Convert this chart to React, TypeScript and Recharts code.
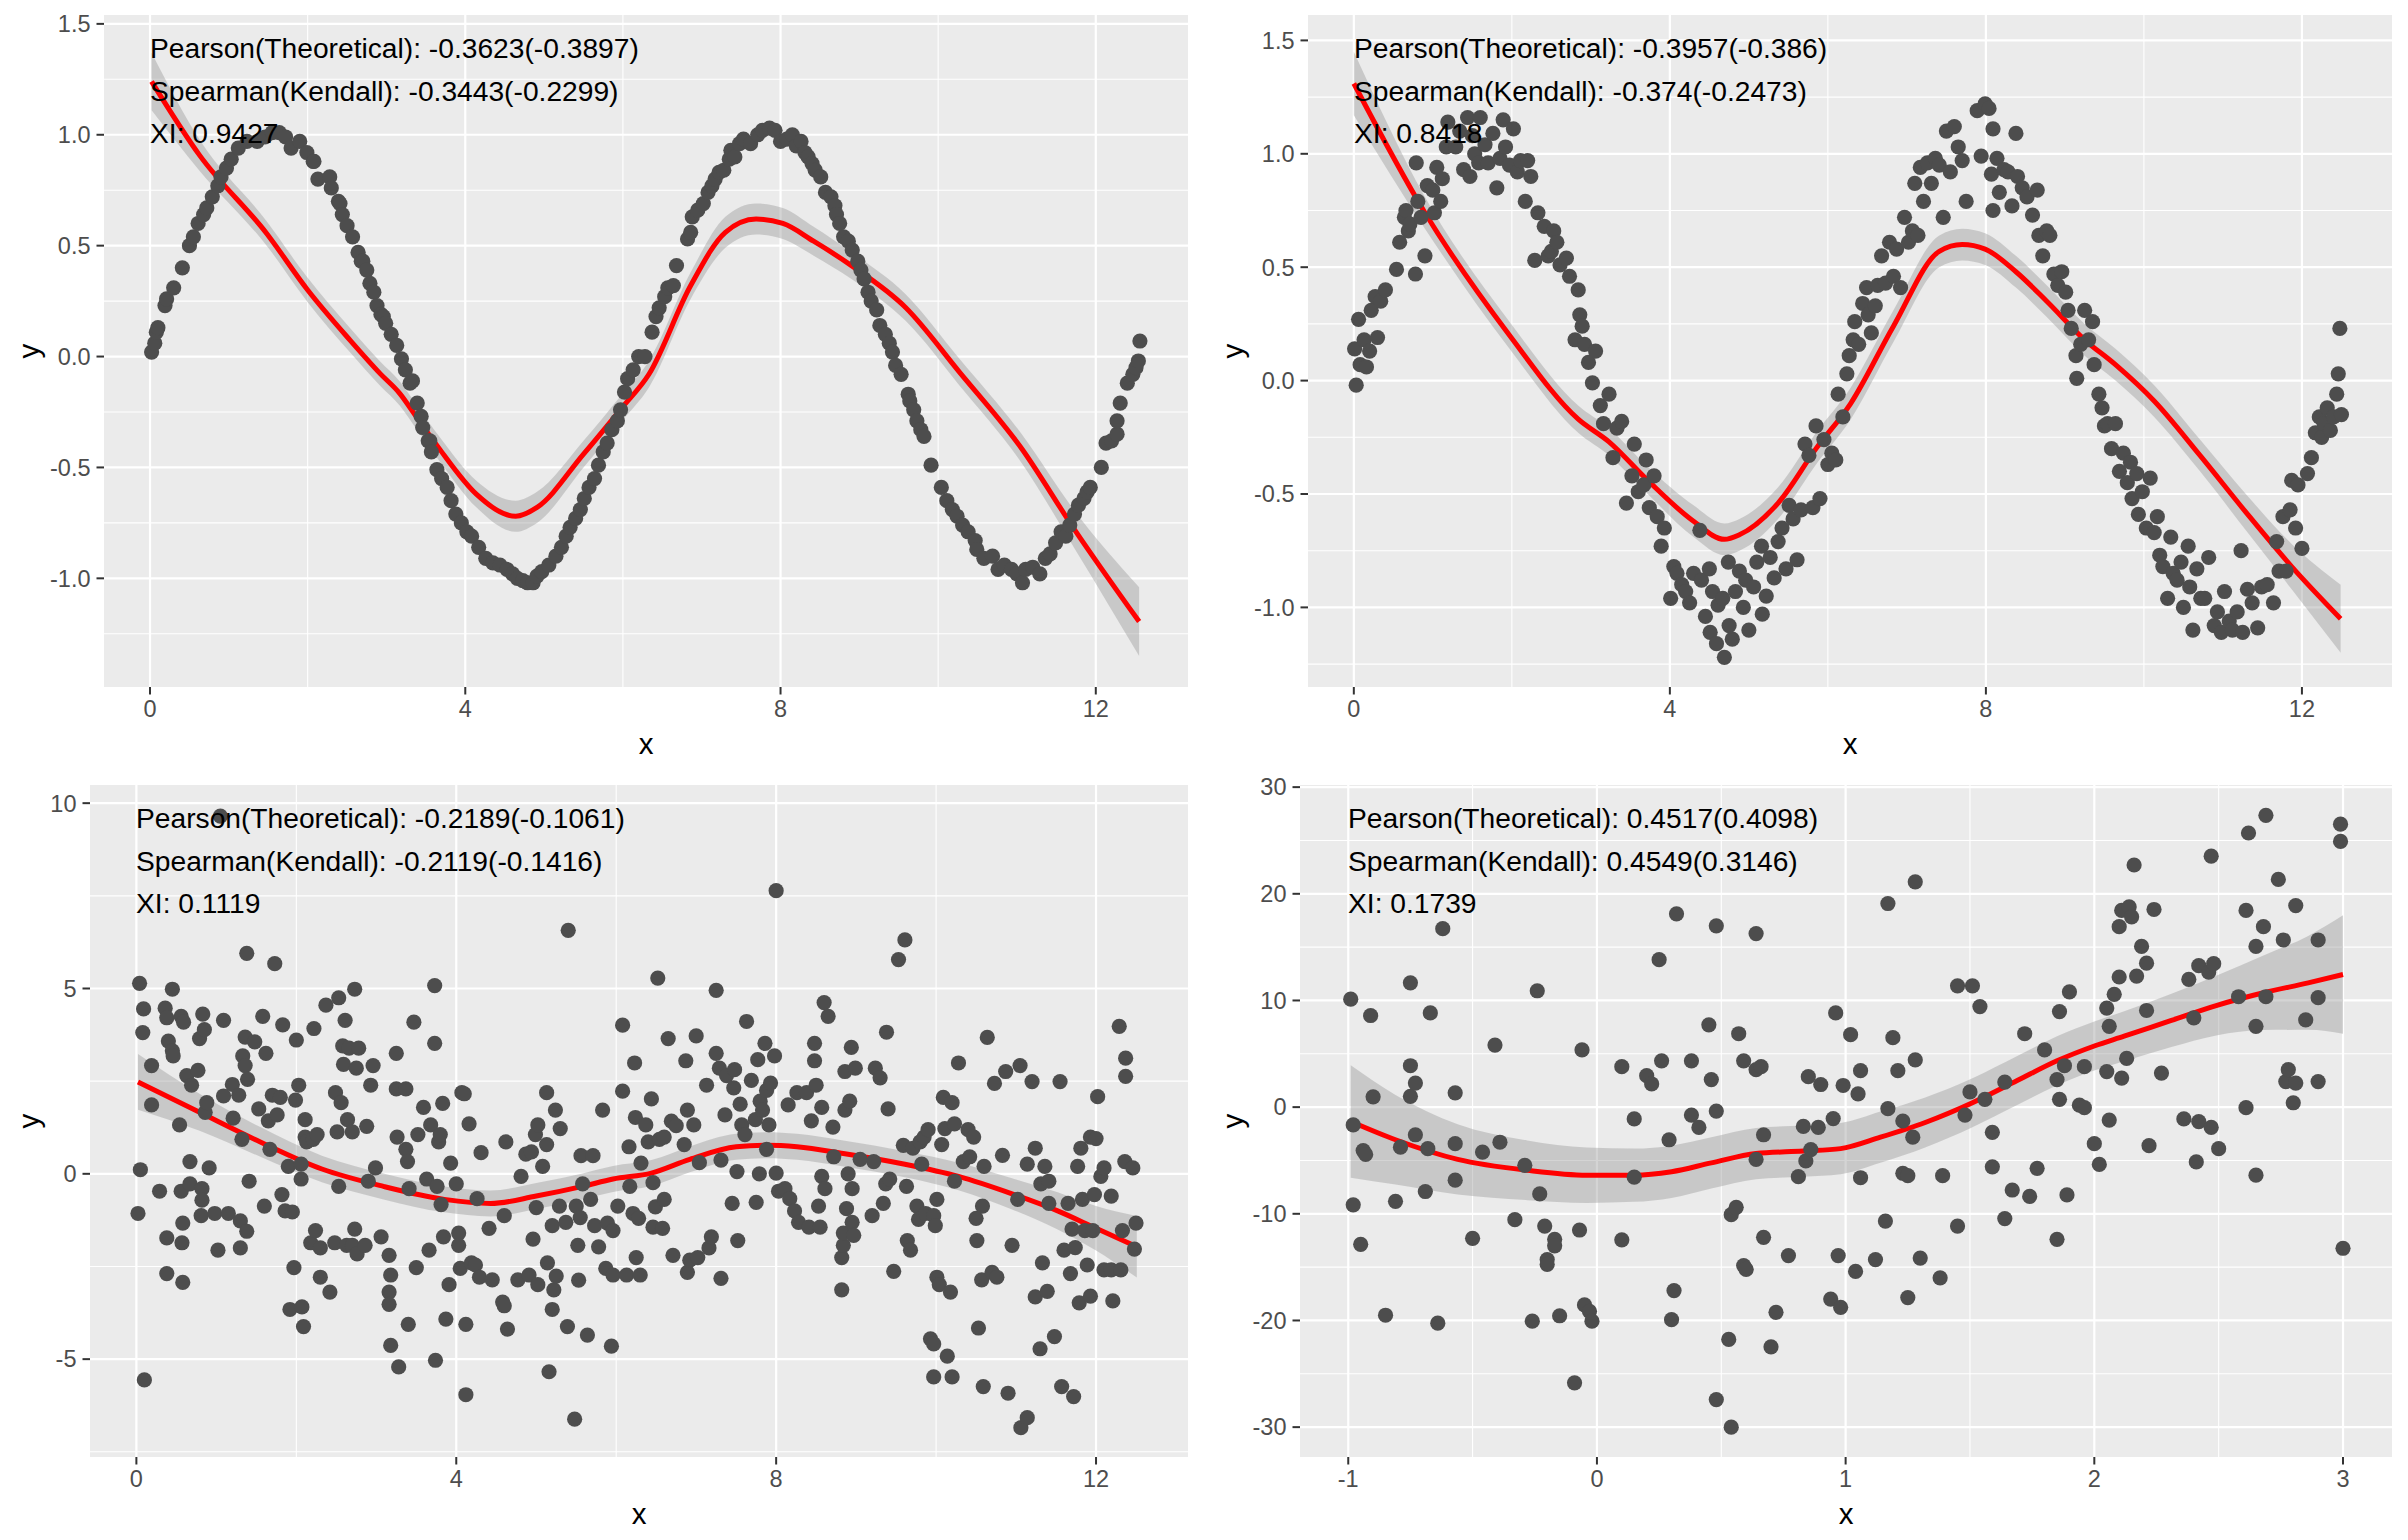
import React from "react";
import { ComposedChart, Scatter, Line, Area, XAxis, YAxis, CartesianGrid } from "recharts";

type Pair = [number, number];

const FONT = '"Liberation Sans", Arial, Helvetica, sans-serif';
const POINT_COLOR = "#4D4D4D";

// ---------- top left ----------
const tlPoints: Pair[] = [
  [0.02, 0.02], [0.06, 0.06], [0.08, 0.11], [0.1, 0.13], [0.19, 0.23], [0.21, 0.26], [0.3, 0.31], [0.41, 0.4],
  [0.5, 0.5], [0.55, 0.54], [0.61, 0.6], [0.68, 0.64], [0.72, 0.67], [0.79, 0.72], [0.86, 0.77], [0.9, 0.81],
  [0.97, 0.85], [1.03, 0.89], [1.12, 0.94], [1.23, 0.97], [1.36, 0.97], [1.46, 0.99], [1.55, 1.01], [1.64, 1.01],
  [1.72, 0.99], [1.79, 0.94], [1.9, 0.97], [1.99, 0.92], [2.07, 0.88], [2.08, 0.88], [2.13, 0.8], [2.28, 0.81],
  [2.3, 0.76], [2.39, 0.7], [2.41, 0.69], [2.44, 0.64], [2.5, 0.59], [2.57, 0.54], [2.64, 0.47], [2.68, 0.43],
  [2.7, 0.43], [2.75, 0.39], [2.79, 0.33], [2.84, 0.29], [2.88, 0.23], [2.93, 0.19], [2.96, 0.18], [2.99, 0.15],
  [3.06, 0.1], [3.13, 0.05], [3.19, -0.01], [3.24, -0.06], [3.3, -0.12], [3.33, -0.11], [3.39, -0.21], [3.44, -0.27],
  [3.46, -0.32], [3.53, -0.38], [3.55, -0.38], [3.57, -0.43], [3.64, -0.51], [3.7, -0.55], [3.77, -0.59], [3.82, -0.65],
  [3.88, -0.71], [3.95, -0.75], [4.02, -0.79], [4.08, -0.81], [4.17, -0.86], [4.26, -0.91], [4.35, -0.93], [4.44, -0.94],
  [4.53, -0.96], [4.6, -0.98], [4.66, -1.0], [4.73, -1.01], [4.79, -1.02], [4.86, -1.02], [4.91, -0.99], [4.97, -0.97],
  [5.06, -0.94], [5.15, -0.9], [5.22, -0.86], [5.28, -0.81], [5.33, -0.77], [5.4, -0.73], [5.46, -0.69], [5.51, -0.64],
  [5.57, -0.59], [5.64, -0.55], [5.69, -0.49], [5.75, -0.43], [5.8, -0.39], [5.86, -0.33], [5.93, -0.29], [5.97, -0.24],
  [6.02, -0.16], [6.06, -0.1], [6.13, -0.06], [6.2, 0.0], [6.28, 0.0], [6.37, 0.11], [6.42, 0.18], [6.46, 0.22],
  [6.53, 0.27], [6.57, 0.31], [6.64, 0.32], [6.68, 0.41], [6.82, 0.53], [6.86, 0.56], [6.88, 0.63], [6.95, 0.66],
  [7.02, 0.69], [7.08, 0.74], [7.13, 0.77], [7.17, 0.8], [7.22, 0.83], [7.28, 0.84], [7.35, 0.89], [7.37, 0.93],
  [7.42, 0.9], [7.48, 0.96], [7.53, 0.98], [7.62, 0.96], [7.71, 1.0], [7.77, 1.02], [7.86, 1.03], [7.93, 1.02],
  [8.0, 0.97], [8.08, 0.98], [8.15, 1.0], [8.2, 0.95], [8.26, 0.97], [8.31, 0.92], [8.35, 0.9], [8.4, 0.87],
  [8.44, 0.84], [8.51, 0.81], [8.57, 0.74], [8.64, 0.72], [8.69, 0.68], [8.71, 0.64], [8.75, 0.6], [8.8, 0.54],
  [8.86, 0.52], [8.91, 0.48], [8.98, 0.43], [9.02, 0.39], [9.06, 0.35], [9.11, 0.29], [9.15, 0.25], [9.22, 0.21],
  [9.26, 0.14], [9.33, 0.1], [9.38, 0.06], [9.42, 0.02], [9.46, -0.04], [9.53, -0.08], [9.62, -0.17], [9.64, -0.2],
  [9.69, -0.24], [9.73, -0.29], [9.78, -0.33], [9.82, -0.36], [9.91, -0.49], [10.04, -0.59], [10.11, -0.65], [10.18, -0.69],
  [10.24, -0.72], [10.31, -0.76], [10.38, -0.79], [10.47, -0.83], [10.49, -0.87], [10.58, -0.91], [10.69, -0.9], [10.76, -0.96],
  [10.84, -0.94], [10.93, -0.96], [11.0, -0.98], [11.07, -1.02], [11.11, -0.96], [11.2, -0.95], [11.29, -0.98], [11.36, -0.91],
  [11.42, -0.89], [11.49, -0.84], [11.56, -0.79], [11.62, -0.81], [11.67, -0.76], [11.73, -0.71], [11.78, -0.67], [11.85, -0.64],
  [11.89, -0.61], [11.93, -0.59], [12.07, -0.5], [12.13, -0.39], [12.2, -0.38], [12.27, -0.35], [12.27, -0.29], [12.31, -0.21],
  [12.4, -0.12], [12.47, -0.08], [12.51, -0.05], [12.54, -0.02], [12.56, 0.07],
];
const tlSmoothX = [0.02, 0.63, 1.48, 2.0, 2.54, 2.92, 3.17, 3.38, 3.68, 4.14, 4.64, 4.91, 5.5, 5.99, 6.33, 6.86, 7.3, 7.69, 8.03, 8.42, 8.9, 9.59, 10.27, 11.05, 11.73, 12.55];
const tlFit = [1.24, 0.907, 0.555, 0.3, 0.073, -0.077, -0.167, -0.272, -0.42, -0.62, -0.72, -0.68, -0.44, -0.23, -0.08, 0.32, 0.56, 0.62, 0.6, 0.52, 0.41, 0.22, -0.07, -0.41, -0.78, -1.195];
const tlLo = [1.11, 0.837, 0.5, 0.245, 0.018, -0.132, -0.222, -0.327, -0.475, -0.68, -0.79, -0.75, -0.5, -0.29, -0.14, 0.26, 0.49, 0.55, 0.53, 0.455, 0.35, 0.16, -0.13, -0.475, -0.865, -1.35];
const tlHi = [1.37, 0.977, 0.61, 0.355, 0.128, -0.022, -0.112, -0.217, -0.365, -0.56, -0.65, -0.61, -0.38, -0.17, -0.02, 0.38, 0.63, 0.69, 0.67, 0.585, 0.47, 0.28, -0.01, -0.345, -0.695, -1.04];
const tlText = ["Pearson(Theoretical): -0.3623(-0.3897)", "Spearman(Kendall): -0.3443(-0.2299)", "XI: 0.9427"];

// ---------- top right ----------
const trPoints: Pair[] = [
  [0.03, -0.02], [0.01, 0.14], [0.06, 0.27], [0.08, 0.07], [0.13, 0.18], [0.16, 0.06], [0.2, 0.13], [0.22, 0.31],
  [0.27, 0.37], [0.3, 0.19], [0.34, 0.35], [0.4, 0.4], [0.54, 0.49], [0.58, 0.61], [0.64, 0.72], [0.66, 0.75],
  [0.69, 0.66], [0.71, 0.69], [0.78, 0.47], [0.79, 0.96], [0.81, 0.79], [0.85, 0.72], [0.9, 0.55], [0.93, 0.86],
  [1.0, 0.84], [1.02, 0.74], [1.05, 0.94], [1.1, 0.79], [1.12, 0.89], [1.17, 1.03], [1.19, 1.14], [1.29, 1.03],
  [1.34, 1.1], [1.39, 0.93], [1.44, 1.16], [1.47, 0.9], [1.5, 1.08], [1.53, 1.0], [1.58, 0.96], [1.6, 1.16],
  [1.66, 1.04], [1.7, 0.96], [1.76, 1.09], [1.81, 0.85], [1.85, 0.98], [1.89, 1.15], [1.92, 1.03], [1.97, 0.95],
  [2.02, 1.11], [2.07, 0.92], [2.11, 0.97], [2.17, 0.79], [2.2, 0.97], [2.24, 0.9], [2.29, 0.53], [2.33, 0.74],
  [2.41, 0.68], [2.46, 0.55], [2.5, 0.57], [2.53, 0.66], [2.57, 0.61], [2.61, 0.51], [2.69, 0.54], [2.73, 0.46],
  [2.8, 0.18], [2.84, 0.4], [2.86, 0.29], [2.89, 0.24], [2.92, 0.16], [2.97, 0.08], [3.02, -0.01], [3.06, 0.13],
  [3.12, -0.11], [3.16, -0.19], [3.23, -0.06], [3.28, -0.34], [3.33, -0.21], [3.39, -0.18], [3.45, -0.54], [3.52, -0.42],
  [3.55, -0.28], [3.6, -0.49], [3.67, -0.46], [3.7, -0.35], [3.74, -0.56], [3.8, -0.42], [3.84, -0.6], [3.89, -0.73],
  [3.93, -0.65], [4.01, -0.96], [4.05, -0.82], [4.09, -0.85], [4.15, -0.9], [4.2, -0.93], [4.25, -0.98], [4.3, -0.85],
  [4.38, -0.66], [4.4, -0.88], [4.45, -1.04], [4.5, -0.83], [4.51, -1.11], [4.54, -0.93], [4.59, -1.16], [4.61, -0.99],
  [4.67, -0.96], [4.69, -1.22], [4.74, -0.8], [4.75, -1.08], [4.79, -1.14], [4.83, -0.93], [4.88, -0.84], [4.93, -1.0],
  [4.96, -0.88], [5.0, -1.1], [5.06, -0.91], [5.1, -0.8], [5.16, -0.73], [5.17, -1.03], [5.22, -0.95], [5.27, -0.78],
  [5.32, -0.87], [5.37, -0.71], [5.42, -0.65], [5.47, -0.83], [5.51, -0.55], [5.56, -0.61], [5.61, -0.79], [5.66, -0.57],
  [5.71, -0.28], [5.76, -0.33], [5.81, -0.56], [5.85, -0.2], [5.9, -0.52], [5.95, -0.26], [6.0, -0.37], [6.05, -0.32],
  [6.1, -0.35], [6.13, -0.06], [6.19, -0.16], [6.24, 0.03], [6.27, 0.11], [6.32, 0.18], [6.34, 0.26], [6.39, 0.16],
  [6.44, 0.34], [6.49, 0.41], [6.51, 0.29], [6.55, 0.21], [6.6, 0.33], [6.63, 0.42], [6.68, 0.55], [6.73, 0.43],
  [6.78, 0.61], [6.83, 0.46], [6.87, 0.58], [6.92, 0.41], [6.97, 0.72], [7.02, 0.61], [7.07, 0.66], [7.1, 0.87],
  [7.14, 0.64], [7.17, 0.94], [7.21, 0.79], [7.26, 0.96], [7.31, 0.87], [7.36, 0.98], [7.41, 0.95], [7.46, 0.72],
  [7.5, 1.1], [7.55, 0.92], [7.6, 1.12], [7.65, 1.03], [7.7, 0.97], [7.75, 0.79], [7.89, 1.19], [7.94, 0.99],
  [7.99, 1.22], [8.04, 1.2], [8.07, 0.91], [8.09, 1.11], [8.14, 0.98], [8.09, 0.75], [8.17, 0.83], [8.23, 0.93],
  [8.28, 0.92], [8.33, 0.77], [8.38, 1.09], [8.4, 0.9], [8.46, 0.85], [8.52, 0.81], [8.59, 0.73], [8.65, 0.84],
  [8.67, 0.64], [8.72, 0.55], [8.77, 0.66], [8.81, 0.64], [8.86, 0.47], [8.91, 0.42], [8.96, 0.48], [9.01, 0.39],
  [9.04, 0.31], [9.08, 0.23], [9.14, 0.11], [9.15, 0.01], [9.2, 0.16], [9.25, 0.31], [9.3, 0.18], [9.35, 0.26],
  [9.37, 0.07], [9.43, -0.06], [9.47, -0.12], [9.5, -0.2], [9.54, -0.19], [9.59, -0.3], [9.64, -0.19], [9.69, -0.4],
  [9.74, -0.32], [9.79, -0.45], [9.83, -0.36], [9.85, -0.52], [9.91, -0.41], [9.93, -0.59], [9.98, -0.49], [10.03, -0.65],
  [10.08, -0.43], [10.13, -0.67], [10.17, -0.6], [10.2, -0.77], [10.24, -0.82], [10.3, -0.96], [10.34, -0.69], [10.37, -0.85],
  [10.42, -0.88], [10.47, -0.8], [10.5, -1.0], [10.56, -0.73], [10.58, -0.91], [10.62, -1.1], [10.67, -0.83], [10.72, -0.96],
  [10.77, -0.96], [10.82, -0.78], [10.89, -1.08], [10.93, -1.02], [10.98, -1.11], [11.02, -0.93], [11.08, -1.06], [11.12, -1.1],
  [11.18, -1.02], [11.23, -0.75], [11.25, -1.11], [11.31, -0.92], [11.37, -0.98], [11.44, -1.09], [11.49, -0.91], [11.56, -0.9],
  [11.64, -0.98], [11.68, -0.71], [11.71, -0.84], [11.76, -0.6], [11.8, -0.84], [11.85, -0.57], [11.87, -0.44], [11.92, -0.65],
  [11.95, -0.46], [12.0, -0.74], [12.07, -0.41], [12.12, -0.34], [12.17, -0.23], [12.22, -0.16], [12.25, -0.25], [12.28, -0.19],
  [12.32, -0.12], [12.36, -0.22], [12.4, -0.16], [12.44, -0.06], [12.46, 0.03], [12.48, 0.23], [12.5, -0.15],
];
const trSmoothX = [0, 0.9, 1.97, 2.84, 3.23, 3.72, 4.3, 4.69, 4.88, 5.37, 5.85, 6.29, 6.83, 7.41, 7.7, 7.99, 8.38, 8.77, 9.25, 9.64, 10.13, 10.71, 11.29, 11.87, 12.49];
const trFit = [1.31, 0.74, 0.2, -0.17, -0.27, -0.44, -0.62, -0.7, -0.68, -0.54, -0.3, -0.1, 0.24, 0.57, 0.6, 0.58, 0.48, 0.35, 0.18, 0.07, -0.09, -0.33, -0.58, -0.82, -1.05];
const trLo = [1.17, 0.67, 0.14, -0.23, -0.33, -0.5, -0.69, -0.77, -0.75, -0.61, -0.37, -0.17, 0.17, 0.5, 0.53, 0.51, 0.41, 0.28, 0.11, 0.0, -0.16, -0.4, -0.66, -0.92, -1.2];
const trHi = [1.45, 0.81, 0.26, -0.11, -0.21, -0.38, -0.55, -0.63, -0.61, -0.47, -0.23, -0.03, 0.31, 0.64, 0.67, 0.65, 0.55, 0.42, 0.25, 0.14, -0.02, -0.26, -0.5, -0.72, -0.9];
const trText = ["Pearson(Theoretical): -0.3957(-0.386)", "Spearman(Kendall): -0.374(-0.2473)", "XI: 0.8418"];

// ---------- bottom left ----------
const blPoints: Pair[] = [
  [0.04, 5.14], [0.02, -1.07], [0.05, 0.11], [0.09, 4.45], [0.08, 3.81], [0.1, -5.56], [0.19, 2.92], [0.19, 1.86],
  [0.29, -0.47], [0.36, 4.47], [0.38, 4.21], [0.38, -1.73], [0.38, -2.69], [0.4, 3.58], [0.45, 4.98], [0.45, 3.32],
  [0.46, 3.18], [0.54, 1.32], [0.56, -0.47], [0.57, -1.86], [0.58, -1.33], [0.58, -2.93], [0.56, 4.25], [0.59, 4.09],
  [0.63, 2.65], [0.67, 0.33], [0.67, -0.27], [0.69, 2.39], [0.77, 2.79], [0.79, 3.65], [0.81, -1.13], [0.82, -0.4],
  [0.82, -0.71], [0.83, 4.31], [0.85, 3.89], [0.86, 1.66], [0.88, 1.92], [0.91, 0.16], [0.98, -1.07], [1.02, -2.06],
  [1.05, 9.65], [1.09, 4.14], [1.09, 2.1], [1.15, -1.07], [1.2, 2.41], [1.21, 1.5], [1.28, 2.12], [1.3, -2.0],
  [1.3, -1.27], [1.32, 0.93], [1.33, 3.18], [1.36, 3.69], [1.36, 2.92], [1.38, 5.95], [1.39, 2.55], [1.41, -0.2],
  [1.38, -1.55], [1.48, 3.56], [1.53, 1.75], [1.58, 4.25], [1.6, -0.87], [1.62, 3.25], [1.65, 1.43], [1.67, 0.66],
  [1.7, 2.12], [1.73, 5.67], [1.76, 1.59], [1.8, 2.06], [1.82, -0.56], [1.83, 4.02], [1.86, -1.0], [1.9, 0.2],
  [1.92, -3.66], [1.95, -1.03], [1.97, -2.53], [1.99, 1.99], [2.0, 3.61], [2.03, 2.39], [2.06, 0.26], [2.06, -0.14],
  [2.07, -3.59], [2.09, -4.12], [2.11, 1.46], [2.11, 0.99], [2.13, 0.86], [2.18, -1.86], [2.21, 0.93], [2.22, 3.92],
  [2.24, -1.53], [2.26, 1.06], [2.3, -2.0], [2.3, -2.79], [2.37, 4.55], [2.42, -3.19], [2.48, -1.86], [2.49, 2.19],
  [2.51, 1.13], [2.53, -0.34], [2.53, 4.75], [2.56, 1.92], [2.58, 3.45], [2.59, 2.95], [2.61, 4.14], [2.63, -1.93],
  [2.64, 1.46], [2.66, 3.39], [2.7, 1.13], [2.7, -1.93], [2.73, 4.98], [2.73, -1.49], [2.75, 2.85], [2.76, -2.16],
  [2.78, 3.39], [2.86, -1.93], [2.88, 1.28], [2.9, -0.2], [2.93, 2.39], [2.96, 2.92], [2.99, 0.16], [3.06, -1.7],
  [3.16, -2.2], [3.16, -3.19], [3.16, -3.52], [3.18, -2.73], [3.18, -4.63], [3.25, 3.25], [3.26, 0.99], [3.28, -5.21],
  [3.25, 2.29], [3.37, 2.29], [3.37, 0.66], [3.39, 0.33], [3.4, -4.06], [3.41, -0.4], [3.47, 4.09], [3.5, -2.53],
  [3.52, 1.06], [3.59, 1.79], [3.63, -0.14], [3.66, -2.06], [3.68, 1.32], [3.73, 5.08], [3.73, 3.52], [3.74, -5.03],
  [3.76, -0.34], [3.78, 0.86], [3.8, 1.06], [3.81, -0.83], [3.83, 1.9], [3.84, -1.7], [3.87, -3.92], [3.91, -2.99],
  [3.93, 0.29], [4.0, -0.27], [4.03, -1.6], [4.03, -1.93], [4.05, -2.55], [4.07, 2.19], [4.1, 2.16], [4.12, -4.06],
  [4.12, -5.96], [4.16, 1.35], [4.19, -2.4], [4.24, -2.46], [4.26, -0.67], [4.29, -2.79], [4.31, 0.57], [4.41, -1.47],
  [4.45, -2.86], [4.58, -3.46], [4.6, -3.56], [4.6, -1.13], [4.62, 0.86], [4.64, -4.19], [4.77, -2.86], [4.81, -0.07],
  [4.87, 0.53], [4.91, -2.73], [4.94, 0.59], [4.96, -1.76], [4.99, 1.06], [5.0, -0.91], [5.02, -2.99], [5.02, 1.32],
  [5.08, 0.2], [5.13, 2.19], [5.13, 0.79], [5.14, -2.4], [5.16, -5.34], [5.2, -1.4], [5.2, -3.66], [5.22, -3.13],
  [5.24, 1.72], [5.25, -2.76], [5.29, -0.87], [5.3, 1.22], [5.37, -1.31], [5.39, -4.12], [5.4, 6.57], [5.48, -6.62],
  [5.5, -0.87], [5.52, -1.93], [5.53, -2.87], [5.55, -1.18], [5.56, 0.49], [5.58, -0.27], [5.64, -4.35], [5.68, -0.69],
  [5.71, 0.49], [5.73, -1.4], [5.78, -1.97], [5.83, 1.72], [5.87, -2.55], [5.89, -1.33], [5.94, -4.65], [5.96, -1.53],
  [5.96, -2.73], [6.02, -0.87], [6.08, 4.01], [6.08, 2.23], [6.13, -2.73], [6.16, 0.73], [6.17, -0.34], [6.21, -1.07],
  [6.23, 2.99], [6.24, 1.52], [6.25, -2.26], [6.28, -1.2], [6.3, -2.73], [6.31, 0.29], [6.37, 1.32], [6.4, 0.86],
  [6.44, 2.02], [6.46, -0.24], [6.46, -1.44], [6.49, -0.89], [6.52, 5.28], [6.54, 0.93], [6.58, -1.47], [6.6, -0.69],
  [6.6, 0.99], [6.65, 3.65], [6.69, 1.42], [6.71, -2.2], [6.75, 1.3], [6.85, 0.79], [6.87, 3.05], [6.89, 1.72],
  [6.89, -2.66], [6.92, -2.33], [6.97, 1.32], [7.0, 3.72], [7.02, -2.26], [7.04, 0.3], [7.13, 2.39], [7.16, -2.0],
  [7.19, -1.7], [7.25, 3.25], [7.25, 4.95], [7.29, 2.85], [7.31, 0.37], [7.31, -2.82], [7.36, 1.59], [7.38, 2.65],
  [7.45, -0.8], [7.47, 2.32], [7.48, 2.81], [7.51, 0.06], [7.52, -1.8], [7.55, 1.88], [7.57, 1.32], [7.61, 1.06],
  [7.63, 4.11], [7.69, 2.52], [7.74, 1.46], [7.75, -0.77], [7.77, 3.08], [7.79, 0.0], [7.8, 1.96], [7.83, 1.72],
  [7.86, 3.52], [7.88, 2.25], [7.88, 0.66], [7.91, 1.32], [7.93, 2.45], [7.98, 3.18], [8.0, 7.64], [8.0, 0.02],
  [8.03, -0.47], [8.11, -0.4], [8.15, 1.86], [8.17, -0.67], [8.23, -1.0], [8.26, 2.19], [8.28, -1.31], [8.38, 2.19],
  [8.41, -1.44], [8.44, 1.43], [8.48, 3.52], [8.48, 3.05], [8.5, 2.39], [8.53, -0.87], [8.55, -1.44], [8.57, 1.79],
  [8.57, -0.07], [8.6, 4.62], [8.61, -0.4], [8.65, 4.25], [8.71, 1.26], [8.72, 0.46], [8.82, -3.13], [8.82, -2.26],
  [8.84, -1.93], [8.84, -1.6], [8.86, 1.72], [8.86, 2.76], [8.88, -0.94], [8.9, 0.0], [8.92, 1.96], [8.94, 3.41],
  [8.95, -0.4], [8.95, -1.31], [8.97, -1.66], [8.99, 2.85], [9.05, 0.39], [9.2, -1.13], [9.22, 0.33], [9.24, 2.85],
  [9.3, 2.59], [9.34, -0.8], [9.37, -0.27], [9.38, 3.82], [9.4, 1.75], [9.42, -0.14], [9.47, -2.63], [9.53, 5.78],
  [9.59, 0.77], [9.61, 6.31], [9.63, -0.34], [9.64, -1.8], [9.68, -2.06], [9.71, 0.69], [9.76, -0.87], [9.78, -1.23],
  [9.8, 0.86], [9.82, 0.26], [9.85, 0.99], [9.87, -1.07], [9.9, 1.19], [9.93, -4.45], [9.97, -5.48], [9.97, -4.59],
  [9.97, -1.13], [9.99, -1.4], [10.01, -2.79], [10.01, -0.69], [10.04, -2.99], [10.07, 0.79], [10.09, 2.06], [10.11, 1.22],
  [10.14, -4.92], [10.18, -3.19], [10.2, -5.48], [10.2, 1.92], [10.23, 1.35], [10.23, -0.2], [10.28, 2.99], [10.34, 0.33],
  [10.4, 1.19], [10.42, 0.46], [10.47, 0.99], [10.5, -1.2], [10.51, -1.8], [10.53, -4.16], [10.57, -2.86], [10.58, -0.87],
  [10.59, -5.74], [10.6, 0.2], [10.64, 3.68], [10.7, -2.66], [10.73, 2.44], [10.76, -2.79], [10.83, 0.5], [10.87, 2.76],
  [10.9, -5.92], [10.95, -1.93], [11.02, -0.69], [11.05, 2.92], [11.06, -6.85], [11.14, -6.58], [11.14, 0.26], [11.2, 2.49],
  [11.24, 0.69], [11.24, -3.32], [11.3, -4.72], [11.31, -0.27], [11.33, -2.4], [11.36, 0.2], [11.39, -3.17], [11.41, -0.8],
  [11.41, -0.2], [11.48, -4.39], [11.55, 2.49], [11.57, -5.74], [11.6, -2.06], [11.65, -0.8], [11.68, -2.69], [11.7, -1.49],
  [11.72, -6.01], [11.74, -1.99], [11.77, 0.2], [11.79, -3.48], [11.81, 0.69], [11.83, -0.69], [11.86, -1.53], [11.89, -2.46],
  [11.93, -3.3], [11.93, 0.99], [11.96, -1.53], [11.98, -0.56], [12.0, 0.95], [12.02, 2.08], [12.06, -0.07], [12.1, 0.16],
  [12.1, -2.59], [12.19, -2.59], [12.19, -0.6], [12.21, -3.43], [12.29, 3.98], [12.31, -2.59], [12.33, -1.53], [12.36, 0.33],
  [12.37, 3.12], [12.37, 2.63], [12.46, 0.16], [12.48, -2.03], [12.5, -1.33],
];
const blSmoothX = [0.02, 0.79, 1.55, 2.32, 3.09, 3.85, 4.43, 5.0, 5.58, 5.96, 6.44, 6.92, 7.5, 7.88, 8.26, 8.84, 9.61, 10.28, 10.95, 11.52, 12.0, 12.51];
const blFit = [2.48, 1.66, 0.86, 0.13, -0.34, -0.69, -0.8, -0.6, -0.34, -0.14, 0.02, 0.39, 0.73, 0.77, 0.73, 0.55, 0.26, -0.07, -0.54, -1.0, -1.47, -1.97];
const blLo = [1.73, 1.16, 0.46, -0.23, -0.69, -1.04, -1.15, -0.95, -0.69, -0.49, -0.33, 0.04, 0.38, 0.42, 0.38, 0.2, -0.09, -0.44, -0.96, -1.5, -2.07, -2.8];
const blHi = [3.23, 2.16, 1.26, 0.49, 0.01, -0.34, -0.45, -0.25, 0.01, 0.21, 0.37, 0.74, 1.08, 1.12, 1.08, 0.9, 0.61, 0.3, -0.12, -0.5, -0.87, -1.14];
const blText = ["Pearson(Theoretical): -0.2189(-0.1061)", "Spearman(Kendall): -0.2119(-0.1416)", "XI: 0.1119"];

// ---------- bottom right ----------
const brPoints: Pair[] = [
  [-0.99, 10.12], [-0.98, -1.67], [-0.98, -9.16], [-0.95, -12.86], [-0.94, -4.07], [-0.93, -4.44], [-0.91, 8.59], [-0.9, 0.97],
  [-0.85, -19.51], [-0.81, -8.83], [-0.79, -3.75], [-0.75, 11.65], [-0.75, 3.88], [-0.75, 1.01], [-0.73, 2.26], [-0.73, -2.59],
  [-0.69, -7.91], [-0.68, -3.89], [-0.67, 8.83], [-0.64, -20.25], [-0.62, 16.73], [-0.57, 1.34], [-0.57, -3.43], [-0.57, -6.85],
  [-0.5, -12.3], [-0.46, -4.21], [-0.41, 5.82], [-0.39, -3.29], [-0.33, -10.55], [-0.29, -5.46], [-0.26, -20.07], [-0.24, 10.91],
  [-0.23, -8.14], [-0.21, -11.15], [-0.2, -14.29], [-0.2, -14.75], [-0.17, -12.39], [-0.17, -13.0], [-0.15, -19.56], [-0.09, -25.85],
  [-0.07, -11.52], [-0.06, 5.36], [-0.05, -18.54], [-0.03, -19.14], [-0.02, -20.07], [0.1, 3.79], [0.1, -12.44], [0.15, -1.11],
  [0.15, -6.57], [0.2, 2.95], [0.22, 2.17], [0.25, 13.82], [0.26, 4.34], [0.29, -3.06], [0.3, -19.93], [0.31, -17.2],
  [0.32, 18.12], [0.38, 4.34], [0.38, -0.74], [0.41, -1.9], [0.45, 7.72], [0.46, 2.58], [0.48, 17.0], [0.48, -27.42],
  [0.48, -0.37], [0.53, -21.78], [0.54, -30.0], [0.54, -10.08], [0.56, -9.39], [0.57, 6.88], [0.59, 4.34], [0.59, -14.85],
  [0.6, -15.21], [0.64, 16.27], [0.64, 3.51], [0.66, 3.79], [0.67, -2.59], [0.64, -4.9], [0.67, -12.21], [0.7, -22.47],
  [0.72, -19.24], [0.77, -13.92], [0.81, -6.52], [0.83, -1.81], [0.84, -5.04], [0.85, 2.86], [0.86, -3.98], [0.89, -1.9],
  [0.9, 2.12], [0.94, -17.99], [0.95, -1.07], [0.96, 8.83], [0.97, -13.92], [0.98, -18.77], [0.99, 2.03], [1.02, 6.79],
  [1.04, -15.4], [1.05, 1.24], [1.06, 3.42], [1.06, -6.62], [1.12, -14.29], [1.16, -10.68], [1.17, 19.09], [1.17, -0.14],
  [1.19, 6.51], [1.21, 3.42], [1.23, -1.3], [1.23, -6.2], [1.25, -17.85], [1.25, -6.43], [1.27, -2.82], [1.28, 21.12],
  [1.28, 4.43], [1.3, -14.15], [1.38, -16.0], [1.39, -6.43], [1.45, 11.37], [1.45, -11.15], [1.48, -0.74], [1.5, 1.43],
  [1.51, 11.37], [1.54, 9.43], [1.56, 0.73], [1.59, -2.36], [1.59, -5.6], [1.64, 2.35], [1.64, -10.45], [1.67, -7.77],
  [1.72, 6.88], [1.74, -8.37], [1.77, -5.74], [1.8, 5.36], [1.85, -12.39], [1.85, 2.58], [1.86, 8.96], [1.86, 0.73],
  [1.88, 3.88], [1.89, -8.23], [1.9, 10.81], [1.94, 0.18], [1.96, -0.05], [1.96, 3.79], [2.0, -3.43], [2.02, -5.37],
  [2.05, 9.29], [2.05, 3.33], [2.06, 7.58], [2.06, -1.21], [2.08, 10.58], [2.1, 12.2], [2.1, 16.92], [2.11, 18.44],
  [2.11, 2.72], [2.13, 4.57], [2.14, 18.77], [2.15, 17.84], [2.16, 22.7], [2.17, 12.29], [2.19, 15.07], [2.21, 13.5],
  [2.21, 9.06], [2.22, -3.61], [2.24, 18.53], [2.27, 3.19], [2.36, -1.11], [2.38, 11.97], [2.4, 8.36], [2.41, -5.14],
  [2.42, 13.26], [2.42, -1.35], [2.46, 12.66], [2.47, 23.53], [2.47, -1.9], [2.48, 13.45], [2.5, -3.89], [2.58, 10.35],
  [2.61, 18.44], [2.61, -0.05], [2.62, 25.7], [2.65, 15.07], [2.65, 7.58], [2.65, -6.38], [2.68, 16.92], [2.69, 27.36],
  [2.69, 10.35], [2.74, 21.35], [2.76, 15.67], [2.77, 2.4], [2.78, 3.51], [2.8, 0.41], [2.81, 2.26], [2.81, 18.9],
  [2.85, 8.18], [2.9, 2.4], [2.9, 15.67], [2.9, 10.26], [2.99, 26.53], [2.99, 24.91], [3.0, -13.23],
];
const brSmoothX = [-0.99, -0.81, -0.56, -0.28, -0.04, 0.15, 0.3, 0.46, 0.64, 0.83, 0.98, 1.14, 1.32, 1.51, 1.69, 1.85, 2.0, 2.12, 2.31, 2.49, 2.68, 2.86, 3.0];
const brFit = [-1.35, -3.06, -4.9, -5.92, -6.38, -6.38, -6.06, -5.23, -4.35, -4.12, -3.89, -2.82, -1.44, 0.41, 2.49, 4.34, 5.73, 6.65, 8.13, 9.52, 10.72, 11.65, 12.43];
const brLo = [-6.62, -7.26, -8.2, -8.72, -8.98, -8.88, -8.51, -7.63, -6.75, -6.52, -6.29, -5.22, -3.79, -1.89, 0.19, 2.04, 3.43, 4.3, 5.63, 6.72, 7.22, 7.25, 6.88];
const brHi = [3.92, 1.14, -1.6, -3.12, -3.78, -3.88, -3.61, -2.83, -1.95, -1.72, -1.49, -0.42, 0.91, 2.71, 4.79, 6.64, 8.03, 9.0, 10.63, 12.32, 14.22, 16.05, 17.98];
const brText = ["Pearson(Theoretical): 0.4517(0.4098)", "Spearman(Kendall): 0.4549(0.3146)", "XI: 0.1739"];

// ---------- axes ----------
const sineTicksX = [0, 4, 8, 12];
const sineMinorX = [2, 6, 10];
const sineTicksY = [-1, -0.5, 0, 0.5, 1, 1.5];
const sineMinorY = [-1.25, -0.75, -0.25, 0.25, 0.75, 1.25];
const blTicksY = [-5, 0, 5, 10];
const blMinorY = [-7.5, -2.5, 2.5, 7.5];
const brTicksX = [-1, 0, 1, 2, 3];
const brMinorX = [-0.5, 0.5, 1.5, 2.5];
const brTicksY = [-30, -20, -10, 0, 10, 20, 30];
const brMinorY = [-25, -15, -5, 5, 15, 25];

const W = 1204;
const H = 770;

const dot = (props: any) => <circle cx={props.cx} cy={props.cy} r={7.6} fill={POINT_COLOR} />;

function Panel(p: any) {
  const smooth = p.smoothX.map((x: number, i: number) => ({ x, fit: p.fit[i], band: [p.lo[i], p.hi[i]] }));
  const pts = p.points.map(([x, y]: Pair) => ({ x, y }));
  const tickStyle = { fill: "#4D4D4D", fontSize: 23.5, fontFamily: FONT };
  const tickLine = { stroke: "#333333", strokeWidth: 2 };
  const plotLeft = p.axisWidth;
  const plotRight = W - 16;
  return (
    <div style={{ position: "absolute", left: p.left, top: p.top, width: W, height: H }}>
      <ComposedChart width={W} height={H} data={smooth} margin={{ top: 15, right: 16, bottom: 0, left: 0 }}>
        <CartesianGrid fill="#EBEBEB" stroke="#FFFFFF" strokeWidth={1.1} horizontalValues={p.yMinor} verticalValues={p.xMinor} />
        <CartesianGrid stroke="#FFFFFF" strokeWidth={2.2} horizontalValues={p.yTicks} verticalValues={p.xTicks} />
        <XAxis
          type="number"
          dataKey="x"
          domain={p.xDomain}
          allowDataOverflow
          ticks={p.xTicks}
          interval={0}
          height={83}
          axisLine={false}
          tickLine={tickLine}
          tickSize={7.5}
          tickMargin={6}
          tick={tickStyle}
        />
        <YAxis
          type="number"
          domain={p.yDomain}
          allowDataOverflow
          ticks={p.yTicks}
          interval={0}
          width={p.axisWidth}
          axisLine={false}
          tickLine={tickLine}
          tickSize={7.5}
          tickMargin={6}
          tick={tickStyle}
          tickFormatter={(v: number) => v.toFixed(p.digits)}
        />
        <Scatter data={pts} dataKey="y" shape={dot} isAnimationActive={false} />
        <Area type="monotone" dataKey="band" fill="#999999" fillOpacity={0.42} stroke="none" isAnimationActive={false} activeDot={false} />
        <Line type="monotone" dataKey="fit" stroke="#FF0000" strokeWidth={5} dot={false} activeDot={false} isAnimationActive={false} />
      </ComposedChart>
      <div style={{ position: "absolute", left: p.textLeft, top: 27, fontFamily: FONT, fontSize: 28.2, lineHeight: "42.5px", color: "#000", whiteSpace: "pre" }}>
        {p.text.map((t: string) => (
          <div key={t}>{t}</div>
        ))}
      </div>
      <div style={{ position: "absolute", left: (plotLeft + plotRight) / 2, top: 744, transform: "translate(-50%, -50%)", fontFamily: FONT, fontSize: 29.5, color: "#000" }}>x</div>
      <div style={{ position: "absolute", left: 29, top: 351, transform: "translate(-50%, -50%) rotate(-90deg)", fontFamily: FONT, fontSize: 29.5, color: "#000" }}>y</div>
    </div>
  );
}

export default function App() {
  return (
    <div style={{ position: "absolute", left: 0, top: 0, width: 2408, height: 1540, background: "#FFFFFF" }}>
      <Panel
        left={0} top={0} axisWidth={104} points={tlPoints} smoothX={tlSmoothX} fit={tlFit} lo={tlLo} hi={tlHi}
        xDomain={[-0.584, 13.17]} yDomain={[-1.49, 1.54]} xTicks={sineTicksX} xMinor={sineMinorX}
        yTicks={sineTicksY} yMinor={sineMinorY} digits={1} text={tlText} textLeft={150}
      />
      <Panel
        left={W} top={0} axisWidth={104} points={trPoints} smoothX={trSmoothX} fit={trFit} lo={trLo} hi={trHi}
        xDomain={[-0.58, 13.14]} yDomain={[-1.351, 1.612]} xTicks={sineTicksX} xMinor={sineMinorX}
        yTicks={sineTicksY} yMinor={sineMinorY} digits={1} text={trText} textLeft={150}
      />
      <Panel
        left={0} top={H} axisWidth={90} points={blPoints} smoothX={blSmoothX} fit={blFit} lo={blLo} hi={blHi}
        xDomain={[-0.58, 13.15]} yDomain={[-7.64, 10.49]} xTicks={sineTicksX} xMinor={sineMinorX}
        yTicks={blTicksY} yMinor={blMinorY} digits={0} text={blText} textLeft={136}
      />
      <Panel
        left={W} top={H} axisWidth={96} points={brPoints} smoothX={brSmoothX} fit={brFit} lo={brLo} hi={brHi}
        xDomain={[-1.194, 3.197]} yDomain={[-32.8, 30.2]} xTicks={brTicksX} xMinor={brMinorX}
        yTicks={brTicksY} yMinor={brMinorY} digits={0} text={brText} textLeft={144}
      />
    </div>
  );
}
